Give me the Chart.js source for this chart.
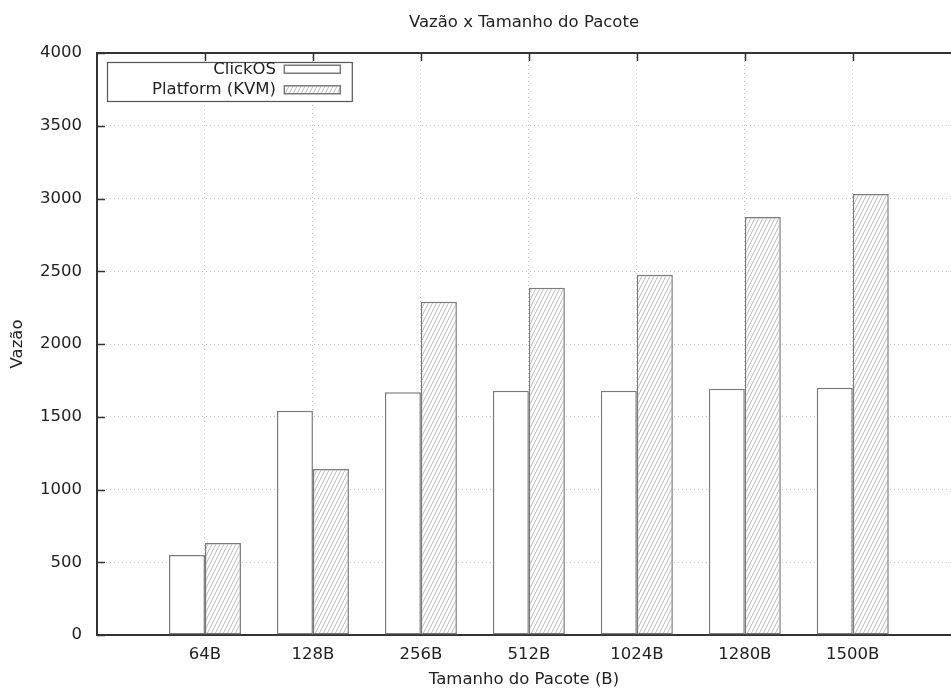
<!DOCTYPE html>
<html>
<head>
<meta charset="utf-8">
<script src="https://cdn.jsdelivr.net/npm/chart.js@4"></script>
<style>
  html, body { margin: 0; padding: 0; background: #fff; overflow: hidden; }
  #wrap { width: 951px; height: 693px; }
</style>
</head>
<body>
<div id="wrap"><canvas id="chart" width="951" height="693"></canvas></div>
<script>
// Vazão x Tamanho do Pacote (gnuplot style histogram)

const packetSizes = ['64B', '128B', '256B', '512B', '1024B', '1280B', '1500B'];
const clickOS = [550, 1542, 1668, 1679, 1679, 1693, 1700];
const platformKVM = [632, 1141, 2291, 2387, 2476, 2873, 3031];

const seriesNames = ['ClickOS', 'Platform (KVM)'];

const textColor = '#222';
const axisColor = '#333';
const barBorder = '#7a7a7a';

Chart.defaults.font.family = "'DejaVu Sans', sans-serif";
Chart.defaults.font.size = 16.5;
Chart.defaults.color = textColor;

// diagonal hatch like gnuplot fill pattern
function makeHatch() {
  const c = document.createElement('canvas');
  c.width = 4;
  c.height = 8;
  const g = c.getContext('2d');
  g.fillStyle = '#fff';
  g.fillRect(0, 0, 4, 8);
  g.strokeStyle = '#b8b8b8';
  g.lineWidth = 1;
  g.beginPath();
  g.moveTo(0, 8); g.lineTo(4, 0);
  g.moveTo(-1, 2); g.lineTo(1, -2);
  g.moveTo(3, 10); g.lineTo(5, 6);
  g.stroke();
  return g.createPattern(c, 'repeat');
}

const hatch = makeHatch();

const toPoints = values => values.map((v, i) => ({ x: i, y: v }));

// gnuplot draws its tics pointing into the plot, and a boxed key
const gnuplotBits = {
  id: 'gnuplotBits',
  afterLayout(chart) {
    const lg = chart.legend;
    lg.left = chart.chartArea.left + 45;
    lg.top = chart.chartArea.top + 4;
  },
  afterDraw(chart) {
    const { ctx, chartArea, scales } = chart;
    ctx.save();
    ctx.strokeStyle = axisColor;
    ctx.lineWidth = 1.5;
    ctx.beginPath();
    scales.y.ticks.forEach(t => {
      const py = Math.round(scales.y.getPixelForValue(t.value)) + 0.5;
      ctx.moveTo(chartArea.left, py);
      ctx.lineTo(chartArea.left + 8, py);
    });
    scales.x.ticks.forEach(t => {
      const px = Math.round(scales.x.getPixelForValue(t.value)) + 0.5;
      ctx.moveTo(px, chartArea.top);
      ctx.lineTo(px, chartArea.top + 8);
    });
    ctx.stroke();

    // key frame
    const lg = chart.legend;
    const x0 = chartArea.left + 10.5;
    const y0 = chartArea.top + 9.5;
    const x1 = lg.left + lg.width + 8;
    const y1 = y0 + 39;
    ctx.fillStyle = '#fff';
    ctx.fillRect(x0, y0, x1 - x0, y1 - y0);
    ctx.strokeStyle = '#555';
    ctx.lineWidth = 1.2;
    ctx.strokeRect(x0, y0, x1 - x0, y1 - y0);
    ctx.restore();
    lg.draw();
  }
};

new Chart(document.getElementById('chart'), {
  type: 'bar',
  data: {
    datasets: [
      {
        label: seriesNames[0],
        data: toPoints(clickOS),
        backgroundColor: '#fff',
        borderColor: barBorder,
        borderWidth: 1.5,
        borderSkipped: false
      },
      {
        label: seriesNames[1],
        data: toPoints(platformKVM),
        backgroundColor: hatch,
        borderColor: barBorder,
        borderWidth: 1.5,
        borderSkipped: false
      }
    ]
  },
  options: {
    responsive: false,
    animation: false,
    devicePixelRatio: 1,
    layout: { padding: 0 },
    categoryPercentage: 0.667,
    barPercentage: 1,
    plugins: {
      title: { display: false },
      tooltip: { enabled: false },
      legend: {
        position: 'chartArea',
        align: 'start',
        rtl: true,
        textDirection: 'ltr',
        labels: {
          boxWidth: 56,
          boxHeight: 8,
          padding: 4,
          textAlign: 'left',
          color: textColor,
          font: { size: 16.5 }
        }
      }
    },
    scales: {
      x: {
        type: 'linear',
        position: 'bottom',
        offset: false,
        min: -1,
        max: 6.91,
        afterBuildTicks: scale => {
          scale.ticks = packetSizes.map((_, i) => ({ value: i }));
        },
        afterFit: scale => { scale.height = 58; },
        ticks: {
          padding: 10,
          callback: v => packetSizes[v] || ''
        },
        grid: {
          offset: false,
          color: '#c4c4c4',
          lineWidth: 1,
          drawTicks: false
        },
        border: { color: axisColor, width: 2, dash: [1, 3] },
        title: {
          display: true,
          text: 'Tamanho do Pacote (B)',
          padding: { top: 0, bottom: 3 }
        }
      },
      x2: {
        type: 'linear',
        axis: 'x',
        position: 'top',
        offset: false,
        min: -1,
        max: 6.91,
        afterFit: scale => { scale.height = 53; },
        ticks: { display: false },
        grid: { display: false, drawTicks: false },
        border: { color: axisColor, width: 2 },
        title: {
          display: true,
          text: 'Vazão x Tamanho do Pacote',
          padding: { top: 13, bottom: 0 }
        }
      },
      y: {
        min: 0,
        max: 4000,
        afterFit: scale => { scale.width = 97; },
        ticks: {
          stepSize: 500,
          padding: 15,
          callback: v => String(v)
        },
        grid: {
          color: '#c4c4c4',
          lineWidth: 1,
          drawTicks: false
        },
        border: { color: axisColor, width: 2, dash: [1, 3] },
        title: {
          display: true,
          text: 'Vazão',
          padding: { top: 8, bottom: 0 }
        }
      }
    }
  },
  plugins: [gnuplotBits]
});
</script>
</body>
</html>
